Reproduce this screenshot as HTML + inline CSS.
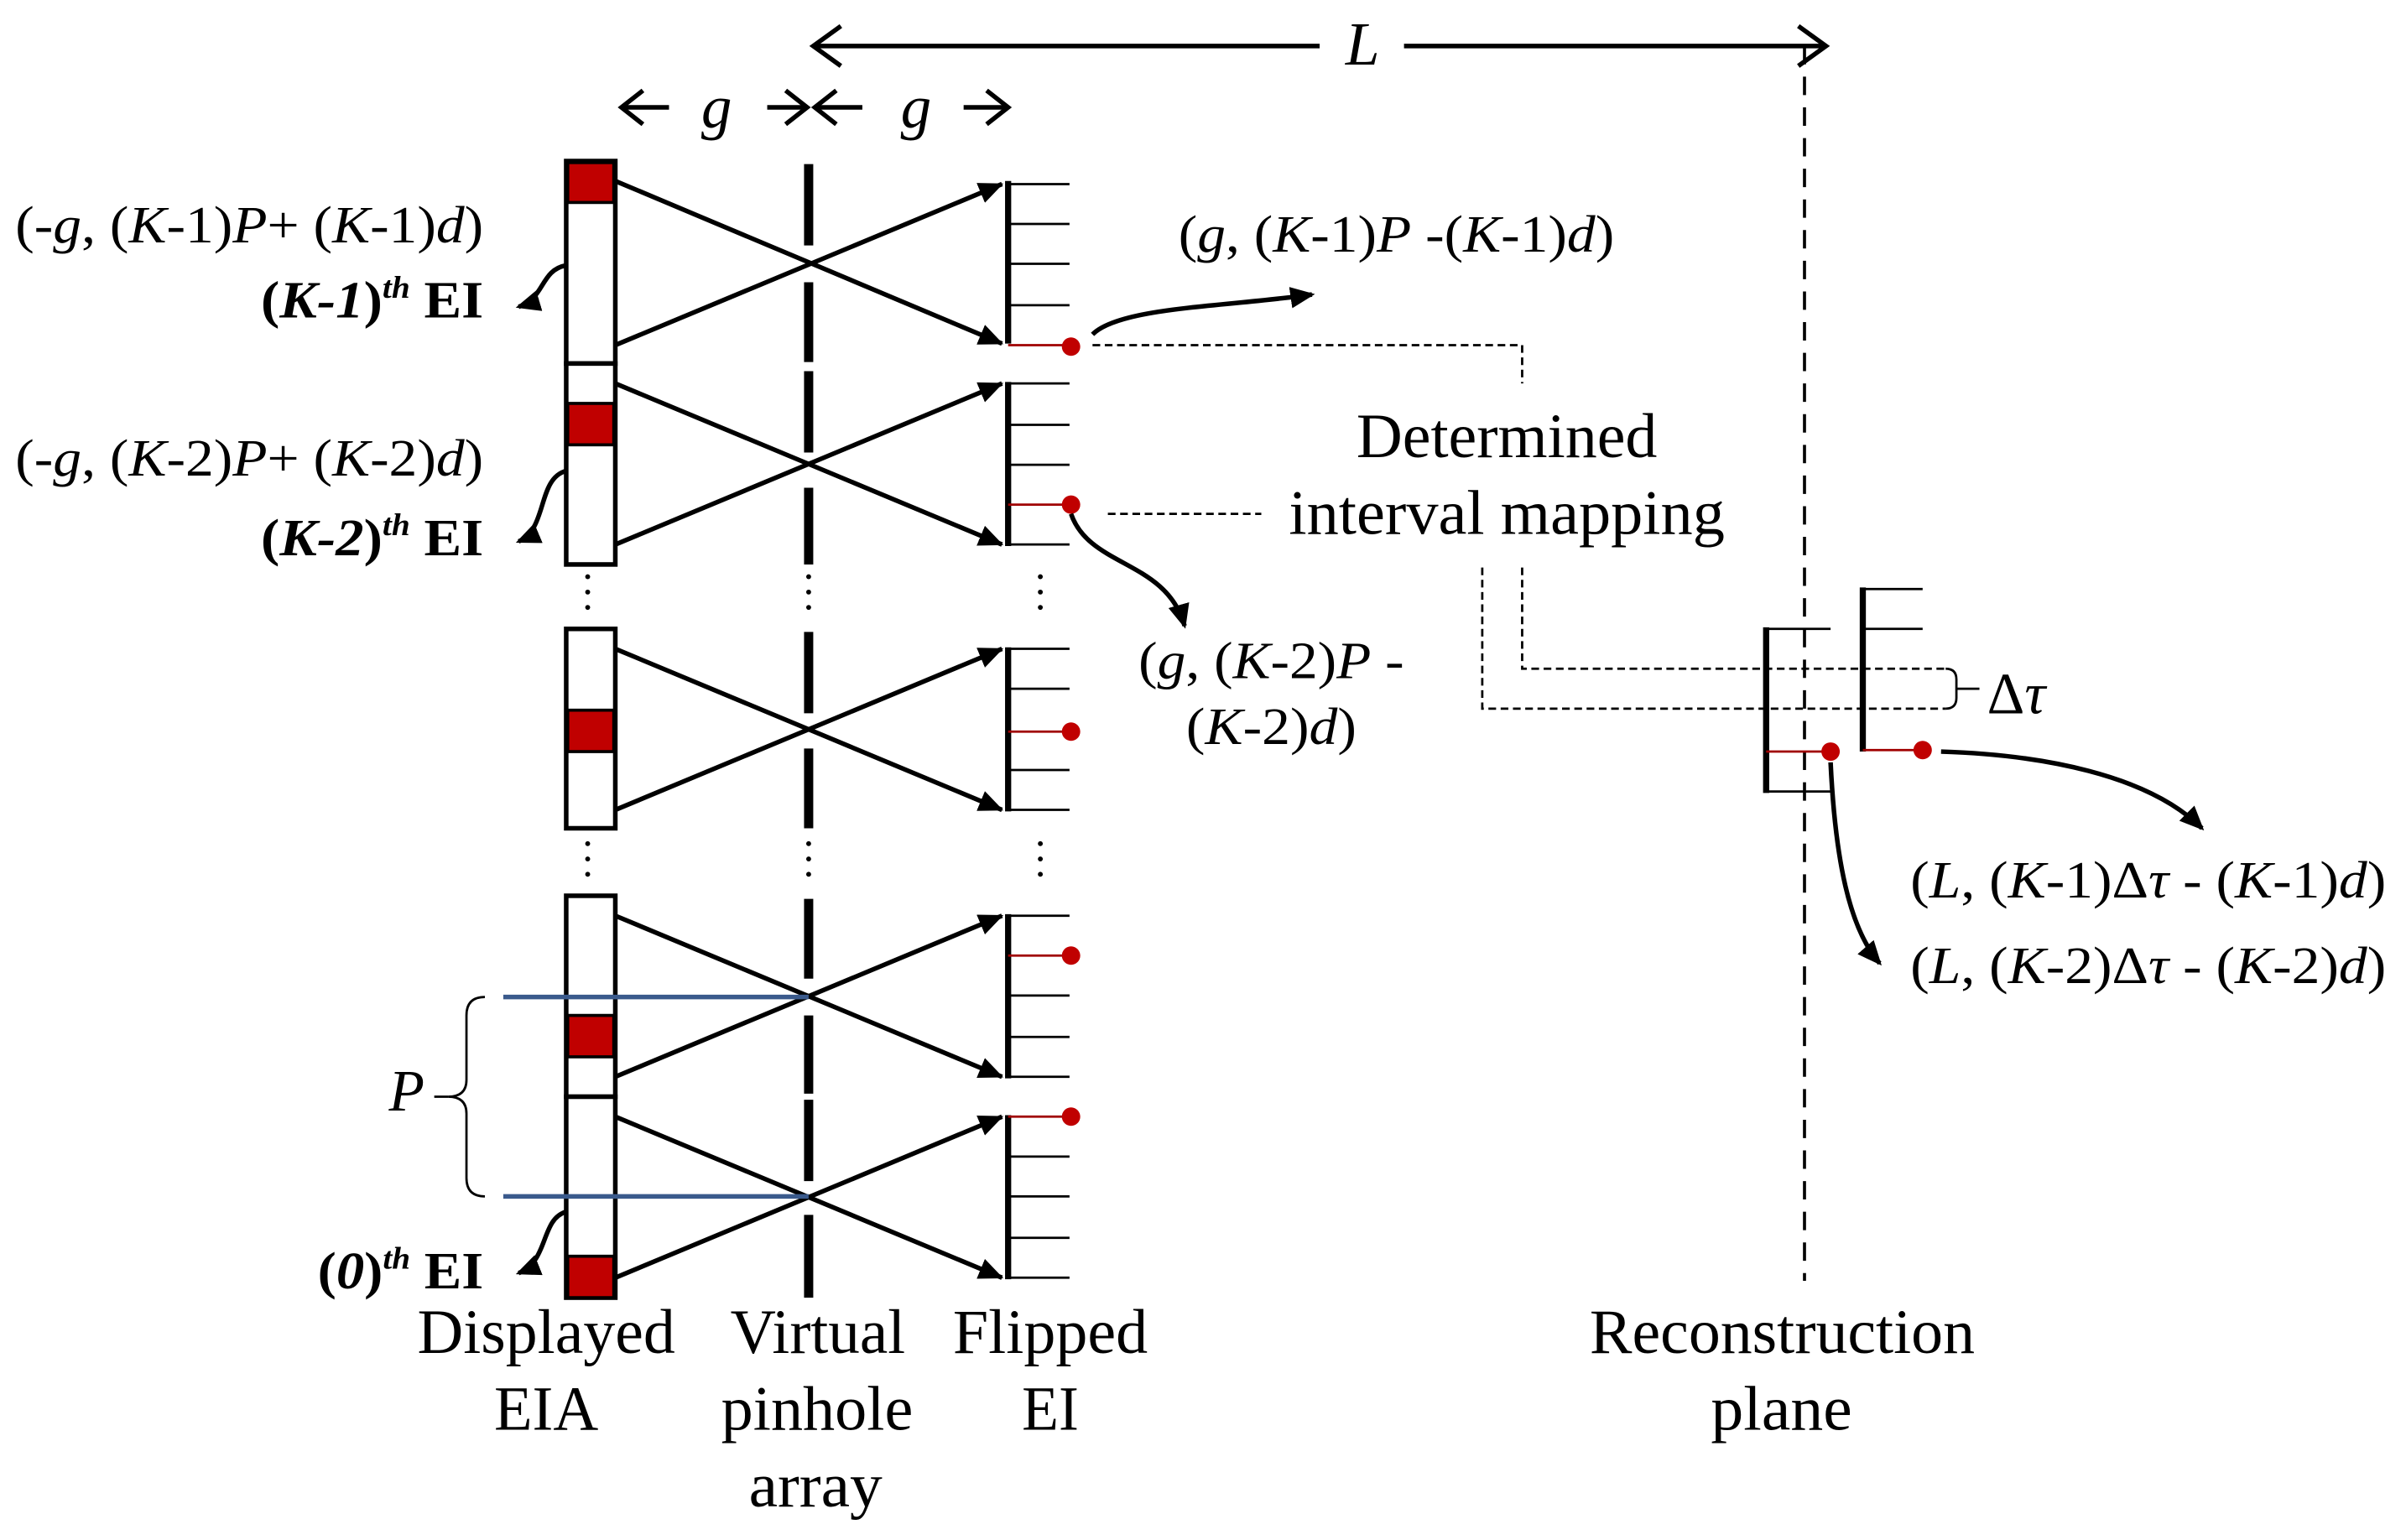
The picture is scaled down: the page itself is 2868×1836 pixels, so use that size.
<!DOCTYPE html>
<html><head><meta charset="utf-8"><style>
html,body{margin:0;padding:0;background:#fff;}
svg{display:block;}
text{font-family:"Liberation Serif",serif;fill:#000;}
</style></head><body>
<svg width="2868" height="1836" viewBox="0 0 1568 1004" preserveAspectRatio="none" xmlns="http://www.w3.org/2000/svg">
<defs>
<marker id="ah" markerWidth="16" markerHeight="14" refX="15" refY="7" orient="auto" markerUnits="userSpaceOnUse" viewBox="0 0 16 14"><path d="M0,0 L16,7 L0,14 z" fill="#000"/></marker>
<marker id="ah2" markerWidth="16" markerHeight="14" refX="14" refY="7" orient="auto" markerUnits="userSpaceOnUse" viewBox="0 0 16 14"><path d="M0,0 L16,7 L0,14 z" fill="#000"/></marker>
</defs>

<!-- top L arrow -->
<line x1="530" y1="30" x2="860" y2="30" stroke="#000" stroke-width="3"/>
<line x1="915" y1="30" x2="1190" y2="30" stroke="#000" stroke-width="3"/>
<polyline points="548,17 530,30 548,43" fill="none" stroke="#000" stroke-width="3"/>
<polyline points="1172,17 1190,30 1172,43" fill="none" stroke="#000" stroke-width="3"/>
<text x="888" y="42" font-size="40" font-style="italic" text-anchor="middle">L</text>
<!-- g arrows -->
<g fill="none" stroke="#000" stroke-width="3">
<polyline points="419,59 405,70 419,81"/><line x1="405" y1="70" x2="436" y2="70"/>
<polyline points="512,59 526,70 512,81"/><line x1="500" y1="70" x2="526" y2="70"/>
<polyline points="545,59 531,70 545,81"/><line x1="531" y1="70" x2="562" y2="70"/>
<polyline points="643,59 657,70 643,81"/><line x1="628" y1="70" x2="657" y2="70"/>
</g>
<text x="467" y="83" font-size="40" font-style="italic" text-anchor="middle">g</text>
<text x="597" y="83" font-size="40" font-style="italic" text-anchor="middle">g</text>

<!-- reconstruction dashed line -->
<line x1="1176" y1="30" x2="1176" y2="835" stroke="#000" stroke-width="2" stroke-dasharray="12,8"/>

<!-- EIA blocks -->
<g stroke="#000" stroke-width="3" fill="#fff">
<rect x="369" y="105" width="32" height="132"/>
<rect x="369" y="237" width="32" height="131"/>
<rect x="369" y="410" width="32" height="130"/>
<rect x="369" y="584" width="32" height="131"/>
<rect x="369" y="715" width="32" height="131"/>
</g>
<g fill="#c00000" stroke="#000" stroke-width="2">
<rect x="370" y="106" width="30" height="26"/>
<rect x="370" y="263" width="30" height="27"/>
<rect x="370" y="463" width="30" height="27"/>
<rect x="370" y="662" width="30" height="27"/>
<rect x="370" y="819" width="30" height="27"/>
</g>

<!-- pinhole -->
<g stroke="#000" stroke-width="6">
<line x1="527" y1="107" x2="527" y2="160"/><line x1="527" y1="184" x2="527" y2="236"/>
<line x1="527" y1="242" x2="527" y2="295"/><line x1="527" y1="318" x2="527" y2="368"/>
<line x1="527" y1="412" x2="527" y2="465"/><line x1="527" y1="488" x2="527" y2="540"/>
<line x1="527" y1="586" x2="527" y2="638"/><line x1="527" y1="662" x2="527" y2="713"/>
<line x1="527" y1="717" x2="527" y2="770"/><line x1="527" y1="792" x2="527" y2="846"/>
</g>

<!-- flipped EI bars -->
<g stroke="#000">
<g stroke-width="4">
<line x1="657" y1="118" x2="657" y2="224"/>
<line x1="657" y1="249" x2="657" y2="356"/>
<line x1="657" y1="422" x2="657" y2="529"/>
<line x1="657" y1="596" x2="657" y2="703"/>
<line x1="657" y1="727" x2="657" y2="834"/>
</g>
<g stroke-width="1.5">
<line x1="657" y1="120" x2="697" y2="120"/><line x1="657" y1="146" x2="697" y2="146"/><line x1="657" y1="172" x2="697" y2="172"/><line x1="657" y1="199" x2="697" y2="199"/>
<line x1="657" y1="250" x2="697" y2="250"/><line x1="657" y1="277" x2="697" y2="277"/><line x1="657" y1="303" x2="697" y2="303"/><line x1="657" y1="355" x2="697" y2="355"/>
<line x1="657" y1="423" x2="697" y2="423"/><line x1="657" y1="449" x2="697" y2="449"/><line x1="657" y1="502" x2="697" y2="502"/><line x1="657" y1="528" x2="697" y2="528"/>
<line x1="657" y1="597" x2="697" y2="597"/><line x1="657" y1="649" x2="697" y2="649"/><line x1="657" y1="676" x2="697" y2="676"/><line x1="657" y1="702" x2="697" y2="702"/>
<line x1="657" y1="754" x2="697" y2="754"/><line x1="657" y1="780" x2="697" y2="780"/><line x1="657" y1="807" x2="697" y2="807"/><line x1="657" y1="833" x2="697" y2="833"/>
</g>
</g>
<g stroke="#a00000" stroke-width="1.5">
<line x1="657" y1="225" x2="697" y2="225"/><line x1="657" y1="329" x2="697" y2="329"/>
<line x1="657" y1="477" x2="697" y2="477"/><line x1="657" y1="623" x2="697" y2="623"/><line x1="657" y1="728" x2="697" y2="728"/>
</g>
<g fill="#c00000">
<circle cx="698" cy="226" r="6"/><circle cx="698" cy="329" r="6"/><circle cx="698" cy="477" r="6"/><circle cx="698" cy="623" r="6"/><circle cx="698" cy="728" r="6"/>
</g>

<!-- crossing arrows -->
<g stroke="#000" stroke-width="3" marker-end="url(#ah)">
<line x1="401" y1="118" x2="653" y2="224"/><line x1="401" y1="225" x2="653" y2="120"/>
<line x1="401" y1="250" x2="653" y2="355"/><line x1="401" y1="355" x2="653" y2="250"/>
<line x1="401" y1="423" x2="653" y2="528"/><line x1="401" y1="528" x2="653" y2="423"/>
<line x1="401" y1="597" x2="653" y2="702"/><line x1="401" y1="702" x2="653" y2="597"/>
<line x1="401" y1="728" x2="653" y2="833"/><line x1="401" y1="833" x2="653" y2="728"/>
</g>

<!-- vertical dots -->
<g fill="#000">
<circle cx="383" cy="376" r="1.6"/><circle cx="383" cy="386" r="1.6"/><circle cx="383" cy="396" r="1.6"/>
<circle cx="527" cy="376" r="1.6"/><circle cx="527" cy="386" r="1.6"/><circle cx="527" cy="396" r="1.6"/>
<circle cx="678" cy="376" r="1.6"/><circle cx="678" cy="386" r="1.6"/><circle cx="678" cy="396" r="1.6"/>
<circle cx="383" cy="550" r="1.6"/><circle cx="383" cy="560" r="1.6"/><circle cx="383" cy="570" r="1.6"/>
<circle cx="527" cy="550" r="1.6"/><circle cx="527" cy="560" r="1.6"/><circle cx="527" cy="570" r="1.6"/>
<circle cx="678" cy="550" r="1.6"/><circle cx="678" cy="560" r="1.6"/><circle cx="678" cy="570" r="1.6"/>
</g>

<!-- blue lines and P brace -->
<line x1="328" y1="650" x2="527" y2="650" stroke="#3a5a8c" stroke-width="3"/>
<line x1="328" y1="780" x2="527" y2="780" stroke="#3a5a8c" stroke-width="3"/>
<path d="M316,650 Q304,650 304,662 L304,704 Q304,715 292,715 Q304,715 304,726 L304,768 Q304,780 316,780" fill="none" stroke="#000" stroke-width="1.5"/>
<line x1="283" y1="715" x2="292" y2="715" stroke="#000" stroke-width="1.5"/>
<text x="265" y="724" font-size="38" font-style="italic" text-anchor="middle">P</text>

<!-- curved arrows -->
<g fill="none" stroke="#000" stroke-width="3" marker-end="url(#ah2)">
<path d="M369,173 C352,176 355,195 338,200"/>
<path d="M369,307 C350,312 357,345 338,353"/>
<path d="M369,790 C352,795 358,822 338,830"/>
<path d="M712,218 C730,200 800,200 855,192"/>
<path d="M698,335 C710,370 760,365 772,408"/>
<path d="M1265,490 C1330,492 1400,505 1435,540"/>
<path d="M1193,497 C1196,560 1205,605 1225,628"/>
</g>

<!-- dashed mapping lines -->
<g fill="none" stroke="#000" stroke-width="1.5" stroke-dasharray="5,3">
<polyline points="712,225 992,225 992,250"/>
<line x1="722" y1="335" x2="822" y2="335"/>
<polyline points="992,370 992,436 1268,436"/>
<polyline points="966,370 966,462 1268,462"/>
</g>
<path d="M1268,436 Q1275,436 1275,443 L1275,455 Q1275,462 1268,462" fill="none" stroke="#000" stroke-width="1.5"/>
<line x1="1275" y1="449" x2="1290" y2="449" stroke="#000" stroke-width="1.5"/>
<text x="1295" y="465" font-size="38"><tspan>Δ</tspan><tspan font-style="italic">τ</tspan></text>

<!-- reconstruction structure -->
<g stroke="#000">
<line x1="1151" y1="409" x2="1151" y2="517" stroke-width="4"/>
<line x1="1214" y1="383" x2="1214" y2="490" stroke-width="4"/>
<g stroke-width="1.5">
<line x1="1151" y1="410" x2="1193" y2="410"/><line x1="1151" y1="516" x2="1193" y2="516"/>
<line x1="1214" y1="384" x2="1253" y2="384"/><line x1="1214" y1="410" x2="1253" y2="410"/>
</g>
</g>
<g stroke="#a00000" stroke-width="1.5">
<line x1="1151" y1="490" x2="1193" y2="490"/><line x1="1214" y1="489" x2="1253" y2="489"/>
</g>
<circle cx="1193" cy="490" r="6" fill="#c00000"/>
<circle cx="1253" cy="489" r="6" fill="#c00000"/>

<!-- texts -->
<g font-size="34" lengthAdjust="spacingAndGlyphs">
<text x="10" y="158" textLength="305" lengthAdjust="spacingAndGlyphs">(-<tspan font-style="italic">g</tspan>, (<tspan font-style="italic">K</tspan>-1)<tspan font-style="italic">P</tspan>+ (<tspan font-style="italic">K</tspan>-1)<tspan font-style="italic">d</tspan>)</text>
<text x="10" y="310" textLength="305" lengthAdjust="spacingAndGlyphs">(-<tspan font-style="italic">g</tspan>, (<tspan font-style="italic">K</tspan>-2)<tspan font-style="italic">P</tspan>+ (<tspan font-style="italic">K</tspan>-2)<tspan font-style="italic">d</tspan>)</text>
<text x="768" y="164" textLength="284" lengthAdjust="spacingAndGlyphs">(<tspan font-style="italic">g</tspan>, (<tspan font-style="italic">K</tspan>-1)<tspan font-style="italic">P</tspan> -(<tspan font-style="italic">K</tspan>-1)<tspan font-style="italic">d</tspan>)</text>
<text x="742" y="442" textLength="173" lengthAdjust="spacingAndGlyphs">(<tspan font-style="italic">g</tspan>, (<tspan font-style="italic">K</tspan>-2)<tspan font-style="italic">P</tspan> -</text>
<text x="773" y="485" textLength="111" lengthAdjust="spacingAndGlyphs">(<tspan font-style="italic">K</tspan>-2)<tspan font-style="italic">d</tspan>)</text>
<text x="1245" y="585" textLength="310" lengthAdjust="spacingAndGlyphs">(<tspan font-style="italic">L</tspan>, (<tspan font-style="italic">K</tspan>-1)Δ<tspan font-style="italic">τ</tspan> - (<tspan font-style="italic">K</tspan>-1)<tspan font-style="italic">d</tspan>)</text>
<text x="1245" y="641" textLength="310" lengthAdjust="spacingAndGlyphs">(<tspan font-style="italic">L</tspan>, (<tspan font-style="italic">K</tspan>-2)Δ<tspan font-style="italic">τ</tspan> - (<tspan font-style="italic">K</tspan>-2)<tspan font-style="italic">d</tspan>)</text>
</g>
<g font-size="34" font-weight="bold">
<text x="170" y="207" textLength="145" lengthAdjust="spacingAndGlyphs">(<tspan font-style="italic">K-1</tspan>)<tspan font-size="20" dy="-13" font-style="italic">th</tspan><tspan dy="13"> EI</tspan></text>
<text x="170" y="362" textLength="145" lengthAdjust="spacingAndGlyphs">(<tspan font-style="italic">K-2</tspan>)<tspan font-size="20" dy="-13" font-style="italic">th</tspan><tspan dy="13"> EI</tspan></text>
<text x="207" y="840" textLength="108" lengthAdjust="spacingAndGlyphs">(<tspan font-style="italic">0</tspan>)<tspan font-size="20" dy="-13" font-style="italic">th</tspan><tspan dy="13"> EI</tspan></text>
</g>
<g font-size="41">
<text x="884" y="298" textLength="196" lengthAdjust="spacingAndGlyphs">Determined</text>
<text x="840" y="348" textLength="284" lengthAdjust="spacingAndGlyphs">interval mapping</text>
<text x="272" y="882" textLength="168" lengthAdjust="spacingAndGlyphs">Displayed</text>
<text x="322" y="932" textLength="68" lengthAdjust="spacingAndGlyphs">EIA</text>
<text x="476" y="882" textLength="114" lengthAdjust="spacingAndGlyphs">Virtual</text>
<text x="470" y="932" textLength="125" lengthAdjust="spacingAndGlyphs">pinhole</text>
<text x="488" y="982" textLength="87" lengthAdjust="spacingAndGlyphs">array</text>
<text x="621" y="882" textLength="127" lengthAdjust="spacingAndGlyphs">Flipped</text>
<text x="666" y="932" textLength="37" lengthAdjust="spacingAndGlyphs">EI</text>
<text x="1036" y="882" textLength="251" lengthAdjust="spacingAndGlyphs">Reconstruction</text>
<text x="1115" y="932" textLength="92" lengthAdjust="spacingAndGlyphs">plane</text>
</g>
</svg>
</body></html>
